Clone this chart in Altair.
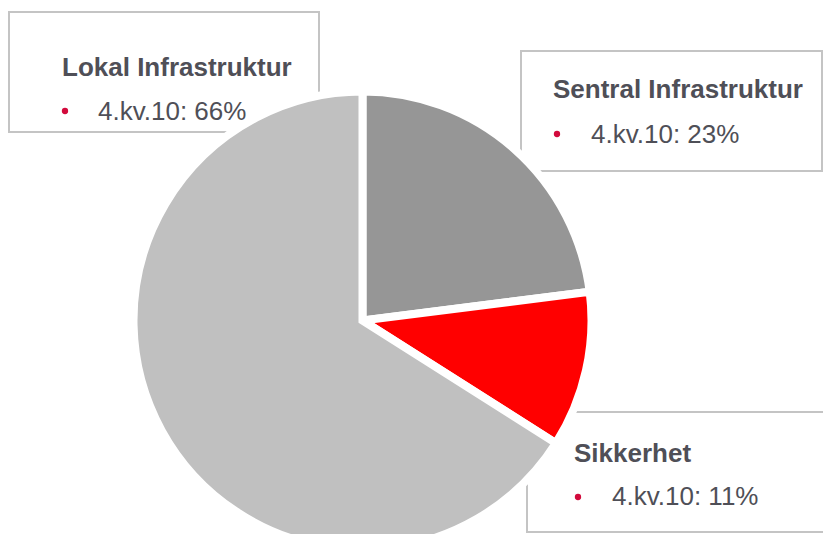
import altair as alt
import pandas as pd

# ---- data ----
categories = ["Sentral Infrastruktur", "Sikkerhet", "Lokal Infrastruktur"]
shares = [23, 11, 66]
period = "4.kv.10"
colors = ["#969696", "#ff0000", "#c0c0c0"]

df = pd.DataFrame({
    "category": categories,
    "share": shares,
    "idx": list(range(len(categories))),
    "label": [f"{period}: {s}%" for s in shares],
})

# ---- layout (page pixel coordinates; chart starts 8px in) ----
OFF = 8
boxes = {
    "Lokal Infrastruktur": (9, 12, 319, 132),
    "Sentral Infrastruktur": (521, 51, 822, 171),
    "Sikkerhet": (527, 412, 850, 532),
}
title_pos = {
    "Lokal Infrastruktur": (62, 76),
    "Sentral Infrastruktur": (553, 98),
    "Sikkerhet": (574, 462),
}
value_pos = {
    "Lokal Infrastruktur": (98, 120),
    "Sentral Infrastruktur": (591, 143),
    "Sikkerhet": (612, 505),
}
bullet_pos = {
    "Lokal Infrastruktur": (65, 111),
    "Sentral Infrastruktur": (557, 134),
    "Sikkerhet": (578, 497),
}
pie_center = (362.5, 320.5)

FONT = "Liberation Sans"
TEXT_COLOR = "#4f4f57"
BULLET_COLOR = "#d20a3c"
BORDER = "#c4c4c4"

base = alt.Chart(df)
layers = []
for cat in categories:
    bx0, by0, bx1, by1 = boxes[cat]
    sub = base.transform_filter(alt.datum.category == cat)
    layers.append(
        sub.mark_rect(fill="white", stroke=BORDER, strokeWidth=2).encode(
            x=alt.value(bx0 - OFF), x2=alt.value(bx1 - OFF),
            y=alt.value(by0 - OFF), y2=alt.value(by1 - OFF),
        )
    )
    tx, ty = title_pos[cat]
    layers.append(
        sub.mark_text(align="left", baseline="alphabetic", font=FONT,
                      fontSize=26, fontWeight="bold", color=TEXT_COLOR).encode(
            x=alt.value(tx - OFF), y=alt.value(ty - OFF), text="category:N"
        )
    )
    vx, vy = value_pos[cat]
    layers.append(
        sub.mark_text(align="left", baseline="alphabetic", font=FONT,
                      fontSize=26, color=TEXT_COLOR).encode(
            x=alt.value(vx - OFF), y=alt.value(vy - OFF), text="label:N"
        )
    )
    px, py = bullet_pos[cat]
    layers.append(
        sub.mark_circle(size=40, color=BULLET_COLOR, opacity=1).encode(
            x=alt.value(px - OFF), y=alt.value(py - OFF)
        )
    )

pie = base.mark_arc(outerRadius=229, stroke="white", strokeWidth=8,
                    strokeJoin="miter").encode(
    theta=alt.Theta("share:Q", stack=True),
    color=alt.Color("category:N",
                    scale=alt.Scale(domain=categories, range=colors),
                    legend=None),
    order=alt.Order("idx:Q"),
    x=alt.value(pie_center[0] - OFF),
    y=alt.value(pie_center[1] - OFF),
)
layers.append(pie)

chart = alt.layer(*layers).properties(
    width=815, height=526, padding=0,
    autosize=alt.AutoSizeParams(type="none"),
).configure_view(stroke=None)

chart.save("out.html", embed_options={"renderer": "svg", "actions": False})
